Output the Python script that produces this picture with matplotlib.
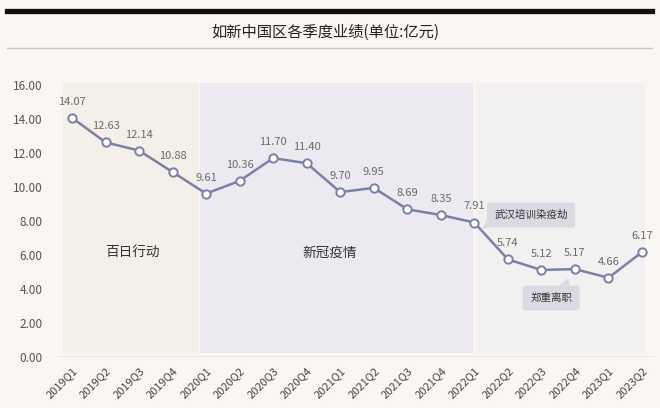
import matplotlib
matplotlib.use("Agg")
import matplotlib.pyplot as plt
from matplotlib.patches import Rectangle, Polygon
from matplotlib.transforms import offset_copy

plt.rcParams['font.family'] = ['Noto Sans CJK SC', 'DejaVu Sans']

quarters = ["2019Q1", "2019Q2", "2019Q3", "2019Q4", "2020Q1", "2020Q2", "2020Q3", "2020Q4",
            "2021Q1", "2021Q2", "2021Q3", "2021Q4", "2022Q1", "2022Q2", "2022Q3", "2022Q4",
            "2023Q1", "2023Q2"]
revenue = [14.07, 12.63, 12.14, 10.88, 9.61, 10.36, 11.70, 11.40,
           9.70, 9.95, 8.69, 8.35, 7.91, 5.74, 5.12, 5.17, 4.66, 6.17]
y_ticks = [0, 2, 4, 6, 8, 10, 12, 14, 16]
title = "如新中国区各季度业绩(单位:亿元)"
phase_labels = ["百日行动", "新冠疫情"]
notes = ["武汉培训染疫劫", "郑重离职"]

W, H = 660, 408
fig = plt.figure(figsize=(W / 100, H / 100), dpi=100)
bg = "#faf6f3"
fig.patch.set_facecolor(bg)

# header decorations
fig.add_artist(plt.Line2D([7 / W, 652 / W], [1 - 10.5 / H, 1 - 10.5 / H], color="#111111", lw=3.8))
fig.add_artist(plt.Line2D([7 / W, 652 / W], [1 - 48 / H, 1 - 48 / H], color="#c9c2cb", lw=1.0))
fig.text(325 / W, 1 - 32 / H, title, ha="center", va="center", fontsize=11, color="#222222")

# axes: index 0 -> px 72, index 17 -> px 642 ; value 0 -> px 357, 16 -> px 85
xpp = (642 - 72) / 17
ypp = (357 - 85) / 16
x0, x1 = -0.42, 17.35
y0, y1 = 0, 16.4
left = 72 + x0 * xpp
right = 72 + x1 * xpp
ax = fig.add_axes([left / W, (H - 357) / H, (right - left) / W, (y1 - y0) * ypp / H])
ax.set_xlim(x0, x1)
ax.set_ylim(y0, y1)
ax.set_facecolor("none")
for s in ax.spines.values():
    s.set_visible(False)

# shaded phases
ax.add_patch(Rectangle((-0.27, 0.25), 3.79 + 0.27, 15.85, facecolor="#f5efe9", edgecolor="none", zorder=0))
ax.add_patch(Rectangle((3.82, 0.25), 11.96 - 3.82, 15.85, facecolor="#ece9f0", edgecolor="none", zorder=0))
ax.add_patch(Rectangle((12.05, 0.25), 17.09 - 12.05, 15.85, facecolor="#f3f0f2", edgecolor="none", zorder=0))
ax.axhline(0, color="#ebe4e2", lw=1.2, zorder=1)

xs = list(range(len(quarters)))
ax.plot(xs, revenue, color="#7c80a6", lw=1.8, marker="o", markersize=6,
        markerfacecolor="white", markeredgecolor="#7c80a6", markeredgewidth=1.4, zorder=3)
for x, v in zip(xs, revenue):
    ax.annotate(f"{v:.2f}", (x, v), xytext=(0, 8), textcoords="offset points",
                ha="center", va="bottom", fontsize=8, color="#6a6a6a", zorder=4)

ax.text(1.79, 6.1, phase_labels[0], ha="center", va="center", fontsize=9.8, color="#333333")
ax.text(7.7, 6.1, phase_labels[1], ha="center", va="center", fontsize=9.8, color="#333333")

# annotation bubbles
box_fc = "#dcd9e2"
note_pos = [(13.69, 8.35), (14.29, 3.47)]
for txt, (nx, ny) in zip(notes, note_pos):
    ax.text(nx, ny, txt, ha="center", va="center", fontsize=7.6, color="#333333", zorder=5,
            bbox=dict(boxstyle="round,pad=0.7,rounding_size=0.3", fc=box_fc, ec="none"))

# bubble tails (offsets in points from the bubble centre)
tails = [[(-31, -2), (-31, -9), (-36, -11)],
         [(6, 9), (14, 9), (12, 14)]]
for (nx, ny), tail in zip(note_pos, tails):
    pts = []
    for dx, dy in tail:
        tr = offset_copy(ax.transData, fig=fig, x=dx, y=dy, units="points")
        pts.append(ax.transData.inverted().transform(tr.transform((nx, ny))))
    ax.add_patch(Polygon(pts, closed=True, fc=box_fc, ec="none", zorder=4))

ax.set_yticks(y_ticks)
ax.set_yticklabels([f"{t:.2f}" for t in y_ticks], fontsize=8.5, color="#555555")
ax.set_xticks(xs)
ax.set_xticklabels(quarters, rotation=45, ha="right", rotation_mode="anchor",
                   fontsize=8, color="#444444")
ax.tick_params(length=0, axis="y", pad=11)
ax.tick_params(length=0, axis="x", pad=6)

fig.savefig("out.png", dpi=100, facecolor=bg)
